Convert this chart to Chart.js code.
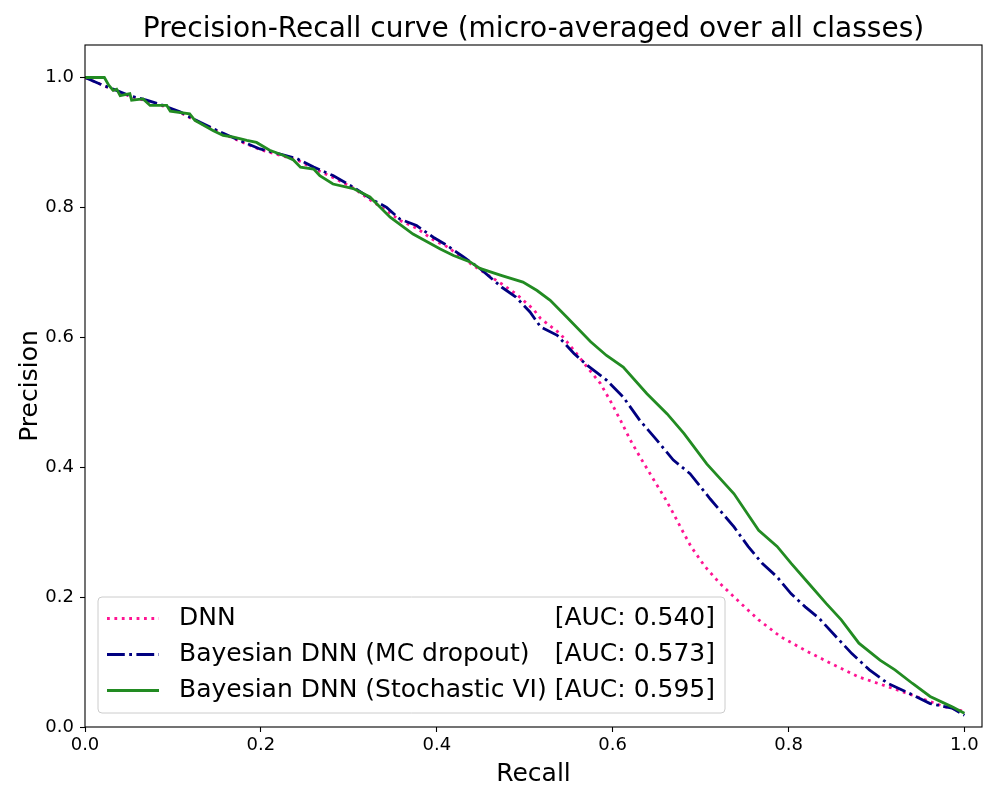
<!DOCTYPE html>
<html>
<head>
<meta charset="utf-8">
<script src="https://cdn.jsdelivr.net/npm/chart.js@4.4.1/dist/chart.umd.min.js"></script>
<style>
html,body{margin:0;padding:0;background:#fff;}
canvas{display:block;}
</style>
</head>
<body>
<canvas id="c" width="1000" height="800"></canvas>
<script>
const titleText = "Precision-Recall curve (micro-averaged over all classes)";
const xLabel = "Recall";
const yLabel = "Precision";
const xTicks = [0.0, 0.2, 0.4, 0.6, 0.8, 1.0];
const yTicks = [0.0, 0.2, 0.4, 0.6, 0.8, 1.0];
const seriesNames = ["DNN", "Bayesian DNN (MC dropout)", "Bayesian DNN (Stochastic VI)"];
const seriesAUC = ["[AUC: 0.540]", "[AUC: 0.573]", "[AUC: 0.595]"];

const dnnRecall = [0.000,0.017,0.032,0.051,0.070,0.089,0.108,0.131,0.154,0.176,0.199,0.222,0.241,0.260,0.282,0.305,0.328,0.343,0.358,0.377,0.396,0.411,0.441,0.474,0.490,0.510,0.518,0.540,0.556,0.571,0.586,0.597,0.609,0.620,0.631,0.647,0.660,0.669,0.677,0.689,0.705,0.722,0.746,0.766,0.791,0.819,0.848,0.880,0.913,0.945,0.978,1.000];
const dnnPrecision = [1.000,0.990,0.981,0.971,0.964,0.956,0.946,0.930,0.915,0.902,0.889,0.880,0.873,0.860,0.846,0.830,0.808,0.795,0.780,0.768,0.750,0.740,0.711,0.682,0.667,0.643,0.629,0.606,0.580,0.554,0.529,0.503,0.472,0.442,0.416,0.380,0.351,0.329,0.308,0.278,0.247,0.221,0.190,0.165,0.139,0.118,0.098,0.077,0.062,0.047,0.031,0.024];

const mcRecall = [0.000,0.017,0.032,0.051,0.070,0.089,0.108,0.131,0.154,0.176,0.199,0.222,0.241,0.260,0.282,0.305,0.328,0.343,0.358,0.377,0.396,0.411,0.430,0.449,0.474,0.490,0.506,0.518,0.537,0.556,0.571,0.593,0.612,0.631,0.650,0.669,0.688,0.711,0.738,0.754,0.770,0.787,0.803,0.819,0.835,0.852,0.872,0.892,0.913,0.937,0.961,0.986,1.000];
const mcPrecision = [1.000,0.990,0.982,0.972,0.965,0.957,0.947,0.931,0.916,0.903,0.890,0.882,0.875,0.862,0.849,0.831,0.811,0.800,0.782,0.772,0.754,0.742,0.724,0.706,0.677,0.662,0.639,0.616,0.603,0.575,0.557,0.534,0.508,0.472,0.442,0.411,0.390,0.351,0.308,0.278,0.252,0.231,0.205,0.185,0.167,0.142,0.113,0.088,0.067,0.052,0.036,0.029,0.018];

const viRecall = [0.000,0.022,0.027,0.032,0.036,0.040,0.051,0.053,0.066,0.074,0.093,0.097,0.119,0.125,0.146,0.157,0.169,0.184,0.195,0.210,0.226,0.237,0.245,0.260,0.267,0.282,0.305,0.324,0.336,0.347,0.373,0.389,0.404,0.419,0.438,0.449,0.474,0.498,0.514,0.529,0.548,0.575,0.593,0.612,0.639,0.662,0.681,0.707,0.738,0.766,0.787,0.803,0.823,0.843,0.860,0.880,0.904,0.921,0.941,0.961,0.986,1.000];
const viPrecision = [1.000,1.000,0.988,0.980,0.982,0.972,0.975,0.965,0.967,0.957,0.957,0.948,0.944,0.934,0.918,0.911,0.908,0.903,0.900,0.888,0.880,0.873,0.862,0.859,0.849,0.836,0.829,0.816,0.800,0.785,0.759,0.747,0.736,0.726,0.716,0.706,0.695,0.685,0.672,0.657,0.631,0.593,0.572,0.554,0.513,0.482,0.452,0.405,0.359,0.303,0.278,0.252,0.221,0.190,0.165,0.129,0.103,0.088,0.067,0.047,0.031,0.021];

function pts(xs, ys){ return xs.map((x,i)=>({x:x, y:ys[i]})); }

const FONT = "'DejaVu Sans', sans-serif";
const colors = ["#FF1493", "#000080", "#228B22"];
const dashes = [[2.8,4.6],[17.8,4.4,2.8,4.4],[]];

const overlay = {
  id: 'overlay',
  afterDatasetsDraw(chart){
    const ctx = chart.ctx;
    const a = chart.chartArea;
    ctx.save();
    ctx.strokeStyle = '#000';
    ctx.lineWidth = 1.1;
    ctx.setLineDash([]);
    ctx.strokeRect(a.left, a.top, a.right - a.left, a.bottom - a.top);
    ctx.fillStyle = '#000';
    ctx.font = "28px " + FONT;
    ctx.textAlign = 'center';
    ctx.textBaseline = 'alphabetic';
    ctx.fillText(titleText, (a.left + a.right)/2, 37);
    ctx.font = "25px " + FONT;
    ctx.fillText(xLabel, (a.left + a.right)/2, 781);
    ctx.save();
    ctx.translate(37, (a.top + a.bottom)/2);
    ctx.rotate(-Math.PI/2);
    ctx.fillText(yLabel, 0, 0);
    ctx.restore();
    const lx = 98, ly = 597, lw = 627, lh = 116;
    ctx.beginPath();
    ctx.roundRect(lx, ly, lw, lh, 4);
    ctx.fillStyle = 'rgba(255,255,255,0.8)';
    ctx.fill();
    ctx.strokeStyle = '#cccccc';
    ctx.lineWidth = 1;
    ctx.stroke();
    ctx.font = "25px " + FONT;
    ctx.textBaseline = 'middle';
    for (let i = 0; i < seriesNames.length; i++) {
      const y = 618.5 + i * 36;
      ctx.strokeStyle = colors[i];
      ctx.lineWidth = 2.8;
      ctx.setLineDash(dashes[i]);
      ctx.beginPath();
      ctx.moveTo(107, y);
      ctx.lineTo(159, y);
      ctx.stroke();
      ctx.setLineDash([]);
      ctx.fillStyle = '#000';
      ctx.textAlign = 'left';
      ctx.fillText(seriesNames[i], 179, y);
      ctx.textAlign = 'right';
      ctx.fillText(seriesAUC[i], 715, y);
    }
    ctx.restore();
  }
};

new Chart(document.getElementById('c'), {
  type: 'line',
  data: {
    datasets: [
      { label: seriesNames[0], data: pts(dnnRecall, dnnPrecision), borderColor: colors[0], borderWidth: 2.8, borderDash: dashes[0], pointRadius: 0, fill: false, tension: 0, order: 2 },
      { label: seriesNames[1], data: pts(mcRecall, mcPrecision), borderColor: colors[1], borderWidth: 2.8, borderDash: dashes[1], pointRadius: 0, fill: false, tension: 0, order: 1 },
      { label: seriesNames[2], data: pts(viRecall, viPrecision), borderColor: colors[2], borderWidth: 2.8, pointRadius: 0, fill: false, tension: 0, order: 0 }
    ]
  },
  options: {
    responsive: false,
    devicePixelRatio: 1,
    animation: false,
    layout: { padding: { left: 0, right: 18, top: 45, bottom: 0 } },
    plugins: { legend: { display: false }, tooltip: { enabled: false }, title: { display: false } },
    scales: {
      x: {
        type: 'linear', min: 0, max: 1.02,
        afterBuildTicks: s => { s.ticks = xTicks.map(v => ({ value: v })); },
        afterFit: s => { s.height = 73; },
        grid: { display: true, drawOnChartArea: false, drawTicks: true, tickLength: 5, tickColor: '#000', tickWidth: 1.1 },
        border: { display: false },
        ticks: { color: '#000', font: { family: FONT, size: 18 }, padding: 3, maxRotation: 0, callback: v => Number(v).toFixed(1) }
      },
      y: {
        type: 'linear', min: 0, max: 1.05,
        afterBuildTicks: s => { s.ticks = yTicks.map(v => ({ value: v })); },
        afterFit: s => { s.width = 85; },
        grid: { display: true, drawOnChartArea: false, drawTicks: true, tickLength: 5, tickColor: '#000', tickWidth: 1.1 },
        border: { display: false },
        ticks: { color: '#000', font: { family: FONT, size: 18 }, padding: 6, callback: v => Number(v).toFixed(1) }
      }
    }
  },
  plugins: [overlay]
});
</script>
</body>
</html>
